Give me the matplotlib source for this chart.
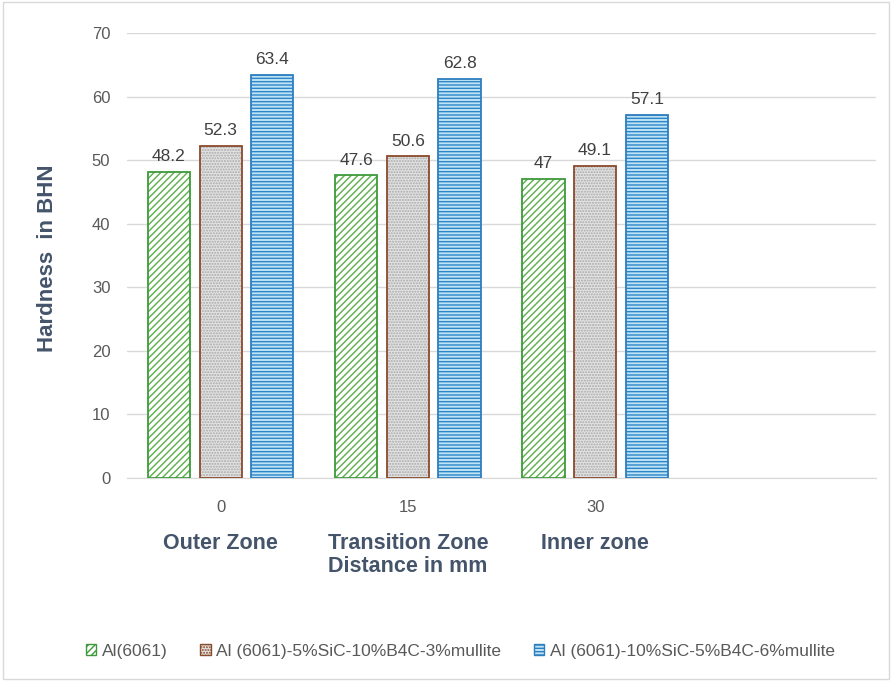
import matplotlib
matplotlib.use("Agg")
import matplotlib.pyplot as plt
from matplotlib.patches import Patch
import numpy as np

categories = ["0", "15", "30", ""]
zones = ["Outer Zone", "Transition Zone", "Inner zone"]
series_names = ["Al(6061)", "Al (6061)-5%SiC-10%B4C-3%mullite", "Al (6061)-10%SiC-5%B4C-6%mullite"]
al6061 = [48.2, 47.6, 47.0]
mix_a = [52.3, 50.6, 49.1]
mix_b = [63.4, 62.8, 57.1]
value_labels = [["48.2", "47.6", "47"], ["52.3", "50.6", "49.1"], ["63.4", "62.8", "57.1"]]

plt.rcParams['font.family'] = ['Liberation Sans', 'DejaVu Sans']
plt.rcParams['hatch.linewidth'] = 1.0

fig = plt.figure(figsize=(8.92, 6.81), dpi=100)
fig.patch.set_facecolor('white')
ax = fig.add_axes([127 / 892, 0.2981, 749 / 892, 0.6534])

x = np.arange(len(al6061))
w = 0.225
offs = [-0.276, 0.0, 0.276]
styles = [
    dict(face='white', hatch='/////', hcol='#5BB04B', edge='#3E9A3A'),
    dict(face='#E3E3E3', hatch='......', hcol='#A8A8A8', edge='#8B4A2B'),
    dict(face='#BDE3F5', hatch='-----', hcol='#2E86C8', edge='#2E7EC0'),
]
data = [al6061, mix_a, mix_b]
for i, (vals, st) in enumerate(zip(data, styles)):
    ax.bar(x + offs[i], vals, w, color=st['face'], hatch=st['hatch'],
           edgecolor=st['hcol'], linewidth=0, zorder=2)
    ax.bar(x + offs[i], vals, w, fill=False, edgecolor=st['edge'],
           linewidth=1.3, zorder=3)
    for xi, v, lab in zip(x, vals, value_labels[i]):
        ax.annotate(lab, xy=(xi + offs[i], v), xytext=(0, 11), textcoords='offset points',
                    ha='center', va='center', fontsize=12.5, color='#404040')

ax.set_ylim(0, 70)
ax.set_xlim(-0.5, 3.5)
ax.set_yticks(range(0, 71, 10))
ax.yaxis.grid(True, color='#D9D9D9', linewidth=1)
ax.set_axisbelow(True)
for s in ['top', 'right', 'left']:
    ax.spines[s].set_visible(False)
ax.spines['bottom'].set_color('#D9D9D9')
ax.tick_params(axis='both', length=0, labelsize=12, labelcolor='#595959')
ax.tick_params(axis='y', pad=12)
ax.set_xticks(np.arange(len(categories)))
ax.set_xticklabels(categories)
ax.tick_params(axis='x', pad=16)

for xi, z in zip(x, zones):
    ax.annotate(z, xy=(xi, 0), xycoords=('data', 'axes fraction'),
                xytext=(0, -47), textcoords='offset points', ha='center', va='center',
                fontsize=15.5, fontweight='bold', color='#44546A')
ax.annotate("Distance in mm", xy=(x[1], 0), xycoords=('data', 'axes fraction'),
            xytext=(0, -64), textcoords='offset points', ha='center', va='center',
            fontsize=15.5, fontweight='bold', color='#44546A')

fig.text(48 / 892, 1 - 258 / 681, "Hardness  in BHN", rotation=90, ha='center', va='center',
         fontsize=16, fontweight='bold', color='#44546A')

handles = [Patch(facecolor=st['face'], edgecolor=st['edge'], hatch=st['hatch'], linewidth=1)
           for st in styles]
fig.legend(handles, series_names, loc='center', bbox_to_anchor=(0.516, 0.044), ncol=3,
           frameon=False, fontsize=12.5, labelcolor='#595959', handlelength=0.6,
           handleheight=0.6, handletextpad=0.3, columnspacing=1.9)

border = plt.Rectangle((0.003, 0.003), 0.994, 0.994, transform=fig.transFigure,
                       fill=False, edgecolor='#D9D9D9', linewidth=1)
fig.patches.append(border)

fig.savefig("out.png", dpi=100)
